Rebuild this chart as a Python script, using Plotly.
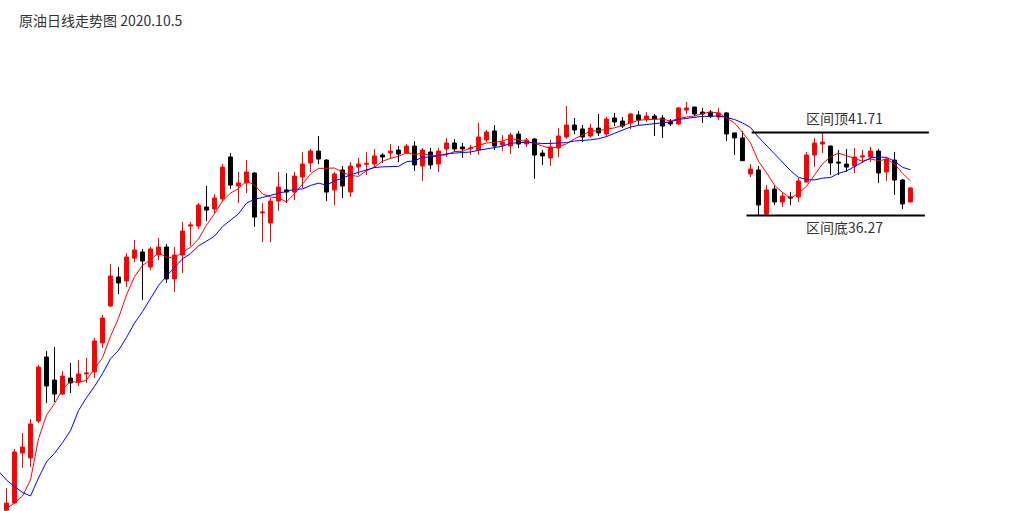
import plotly.graph_objects as go
import pandas as pd

# ---------------- data (prices) ----------------
title_text = "原油日线走势图 2020.10.5"

opens = [16.94, 17.40, 20.68, 20.36, 22.78, 26.98, 25.47, 24.55, 25.60, 25.34,
         25.87, 26.00, 27.90, 30.33, 32.23, 31.97, 33.47, 33.87, 32.88, 33.67,
         34.20, 32.10, 33.67, 35.57, 35.57, 36.82, 36.69, 37.35, 40.10, 38.20,
         38.40, 39.05, 36.43, 35.77, 37.21, 37.94, 37.80, 38.79, 39.71, 40.49,
         39.90, 37.94, 39.25, 37.80, 39.44, 39.62, 39.64, 40.23, 40.36, 40.56,
         40.36, 40.82, 39.51, 40.43, 39.64, 40.63, 41.02, 40.76, 40.63, 40.56,
         41.22, 41.81, 40.89, 40.82, 41.61, 40.95, 41.28, 40.36, 40.04, 40.69,
         41.41, 42.20, 41.94, 41.48, 42.00, 41.61, 42.66, 42.46, 42.33, 42.86,
         42.59, 42.79, 42.66, 42.40, 42.27, 43.18, 43.38, 43.05, 43.05, 42.72,
         42.99, 41.68, 41.35, 38.99, 39.25, 36.36, 38.00, 37.15, 37.48, 37.48,
         38.46, 40.23, 40.95, 40.82, 39.77, 39.64, 39.51, 40.10, 40.10, 40.49,
         39.12, 39.90, 38.59, 37.15]

highs = [18.39, 20.95, 22.00, 22.91, 26.46, 27.37, 27.64, 26.06, 26.59, 26.78,
         26.92, 28.23, 29.74, 33.08, 32.88, 33.80, 34.66, 34.07, 34.20, 34.79,
         34.39, 34.20, 35.84, 35.84, 37.08, 38.20, 37.67, 39.64, 40.36, 39.12,
         39.90, 39.12, 37.08, 37.41, 39.12, 39.05, 39.12, 40.43, 40.63, 41.48,
         39.95, 39.12, 39.51, 39.77, 40.04, 40.43, 40.63, 40.36, 40.95, 40.82,
         40.95, 41.15, 40.69, 40.69, 40.69, 41.35, 41.28, 41.02, 40.89, 42.33,
         41.87, 42.20, 41.54, 41.68, 41.81, 41.35, 41.35, 40.56, 41.22, 42.00,
         43.45, 42.66, 42.20, 42.27, 42.92, 42.72, 42.99, 42.72, 42.99, 43.12,
         43.05, 42.92, 42.86, 42.59, 43.38, 43.71, 43.40, 43.32, 43.18, 43.32,
         43.05, 41.70, 41.81, 39.64, 39.51, 38.26, 38.26, 37.80, 37.80, 38.72,
         40.43, 41.35, 41.71, 40.84, 40.56, 40.63, 40.69, 40.56, 40.76, 40.63,
         40.04, 40.43, 38.66, 38.13]

lows = [16.85, 17.35, 19.70, 19.76, 22.65, 23.96, 24.03, 24.49, 24.62, 25.08,
        25.28, 25.60, 27.57, 30.26, 31.11, 31.57, 33.21, 30.72, 32.69, 33.34,
        31.84, 31.24, 32.49, 34.26, 35.38, 35.90, 36.43, 37.15, 38.00, 37.08,
        37.74, 35.51, 34.52, 34.52, 36.56, 37.08, 37.28, 38.07, 39.12, 39.64,
        37.21, 36.95, 37.41, 37.48, 38.92, 38.92, 39.38, 39.71, 39.97, 39.77,
        40.30, 39.18, 38.53, 39.31, 39.12, 40.10, 40.43, 40.04, 40.23, 40.23,
        41.08, 40.56, 40.49, 40.30, 40.69, 40.76, 38.66, 39.58, 39.51, 40.10,
        41.28, 41.61, 41.08, 41.35, 41.48, 41.41, 42.13, 42.00, 41.94, 42.20,
        42.40, 41.48, 41.35, 42.13, 42.20, 42.92, 42.79, 42.33, 42.66, 42.53,
        41.15, 40.23, 39.84, 38.79, 36.30, 36.27, 36.95, 36.82, 36.95, 37.15,
        38.44, 39.44, 40.36, 38.92, 38.92, 39.12, 39.05, 39.71, 39.77, 38.40,
        38.53, 37.61, 36.69, 37.13]

closes = [17.40, 20.75, 21.08, 22.59, 26.32, 25.08, 24.55, 25.73, 25.28, 25.87,
          25.93, 28.03, 29.54, 32.29, 31.84, 33.54, 34.00, 33.28, 34.07, 34.20,
          32.10, 33.67, 35.25, 35.64, 36.95, 36.62, 37.41, 39.44, 38.26, 38.40,
          39.12, 36.16, 36.49, 37.21, 38.13, 37.80, 38.85, 39.64, 40.49, 39.97,
          37.80, 38.99, 38.20, 39.51, 39.64, 39.68, 40.17, 40.10, 40.49, 40.30,
          40.82, 39.58, 40.56, 39.58, 40.49, 41.02, 40.63, 40.63, 40.69, 41.41,
          41.74, 40.82, 41.08, 41.54, 40.95, 41.22, 40.23, 40.17, 40.76, 41.48,
          42.20, 41.87, 41.41, 42.00, 41.68, 42.59, 42.40, 42.13, 42.92, 42.53,
          42.79, 42.59, 42.13, 42.27, 43.32, 43.32, 42.92, 42.92, 42.79, 42.99,
          41.61, 41.35, 39.86, 39.31, 36.95, 37.94, 37.15, 37.54, 37.41, 38.53,
          40.23, 41.02, 41.08, 39.71, 39.71, 39.44, 40.10, 40.17, 40.49, 39.05,
          39.97, 38.59, 37.02, 38.07]

# closes of the sessions before the visible window (estimated, only used for the moving averages)
prior_closes = [23.31, 24.95, 24.95, 24.95, 14.52, 14.52, 18.91, 18.78, 17.34, 12.75]

range_top = 41.71
range_bottom = 36.27
label_top = "区间顶41.71"
label_bottom = "区间底36.27"

# ---------------- derived ----------------
n = len(closes)
idx = list(range(n))
all_idx = list(range(-len(prior_closes), n))
all_closes = pd.Series(prior_closes + closes)
ma5 = all_closes.rolling(5).mean()
ma10 = all_closes.rolling(10).mean()

fig = go.Figure()

fig.add_trace(go.Candlestick(
    x=idx, open=opens, high=highs, low=lows, close=closes,
    increasing=dict(line=dict(color="#ff0000", width=1), fillcolor="#ff0000"),
    decreasing=dict(line=dict(color="#000000", width=1), fillcolor="#000000"),
    whiskerwidth=0, showlegend=False, hoverinfo="skip"))

fig.add_trace(go.Scatter(x=all_idx, y=ma5, mode="lines",
                         line=dict(color="#ff0000", width=1), showlegend=False, hoverinfo="skip"))
fig.add_trace(go.Scatter(x=all_idx, y=ma10, mode="lines",
                         line=dict(color="#0000ff", width=1), showlegend=False, hoverinfo="skip"))

# range lines
fig.add_shape(type="line", xref="x", yref="y", x0=93.15, x1=115.3, y0=range_top, y1=range_top,
              line=dict(color="#000000", width=2))
fig.add_shape(type="line", xref="x", yref="y", x0=92.5, x1=114.8, y0=range_bottom, y1=range_bottom,
              line=dict(color="#000000", width=2))

cjk = "Noto Sans CJK SC, SimSun, sans-serif"
fig.add_annotation(x=104.8, y=range_top, xref="x", yref="y", text=label_top, showarrow=False,
                   yanchor="middle", yshift=14.5, font=dict(family=cjk, size=14, color="#333333"))
fig.add_annotation(x=104.8, y=range_bottom, xref="x", yref="y", text=label_bottom, showarrow=False,
                   yanchor="middle", yshift=-11.7, font=dict(family=cjk, size=14, color="#333333"))

fig.add_annotation(x=18 / 1022, y=1 - 20 / 511, xref="paper", yref="paper", text=title_text,
                   showarrow=False, xanchor="left", yanchor="middle", xshift=-1,
                   font=dict(family=cjk, size=14, color="#333333"))

fig.update_layout(
    width=1022, height=511,
    margin=dict(l=0, r=0, t=0, b=0),
    paper_bgcolor="#ffffff", plot_bgcolor="#ffffff",
    xaxis=dict(range=[-0.8125, 126.9375], visible=False, rangeslider=dict(visible=False),
               showgrid=False, zeroline=False),
    yaxis=dict(range=[16.88, 50.40], visible=False, showgrid=False, zeroline=False),
    hovermode=False,
)

fig.write_html("out.html", config={"displayModeBar": False},
               post_script="document.body.style.margin='0';document.body.style.overflow='hidden';")
